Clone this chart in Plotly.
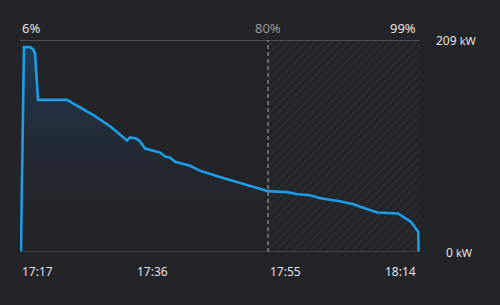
import plotly.graph_objects as go

# ---- data ----
times = [
    "2024-01-01 17:17:08", "2024-01-01 17:17:34", "2024-01-01 17:18:26", "2024-01-01 17:18:52",
    "2024-01-01 17:19:09", "2024-01-01 17:19:35", "2024-01-01 17:23:44", "2024-01-01 17:27:44",
    "2024-01-01 17:29:53", "2024-01-01 17:32:20", "2024-01-01 17:32:45", "2024-01-01 17:33:36",
    "2024-01-01 17:34:11", "2024-01-01 17:34:54", "2024-01-01 17:37:03", "2024-01-01 17:37:46",
    "2024-01-01 17:38:30", "2024-01-01 17:39:12", "2024-01-01 17:41:21", "2024-01-01 17:42:48",
    "2024-01-01 17:45:36", "2024-01-01 17:48:30", "2024-01-01 17:50:42", "2024-01-01 17:52:30",
    "2024-01-01 17:55:12", "2024-01-01 17:56:42", "2024-01-01 17:58:30", "2024-01-01 18:00:00",
    "2024-01-01 18:02:48", "2024-01-01 18:04:42", "2024-01-01 18:08:06", "2024-01-01 18:10:00",
    "2024-01-01 18:11:06", "2024-01-01 18:12:54", "2024-01-01 18:14:00", "2024-01-01 18:14:03",
]
power_kw = [
    0, 202, 202, 200,
    196, 150, 150, 134,
    124, 110, 113, 112,
    109, 102, 98, 94,
    93, 89, 85, 80,
    74, 68, 64, 60,
    59, 57, 56, 53,
    50, 47, 39, 38,
    38, 30, 20, 0,
]

x_start = "2024-01-01 17:17:00"
x_end = "2024-01-01 18:14:15"
max_kw = 209
soc80_time = "2024-01-01 17:52:30"

time_ticks = ["2024-01-01 17:17:00", "2024-01-01 17:36:00", "2024-01-01 17:55:00", "2024-01-01 18:14:00"]
time_labels = ["17:17", "17:36", "17:55", "18:14"]
time_anchors = ["left", "center", "center", "right"]

soc_positions = [x_start, soc80_time, "2024-01-01 18:14:00"]
soc_labels = ["6%", "80%", "99%"]
soc_anchors = ["left", "center", "right"]
soc_colors = ["#e2e2e2", "#9a9a9c", "#e2e2e2"]

BG = "#232428"
LINE = "#1c9de6"
FONT = "Noto Sans"

fig = go.Figure()

# hatched region after 80%
fig.add_trace(go.Scatter(
    x=[soc80_time, x_end, x_end, soc80_time, soc80_time],
    y=[0, 0, max_kw, max_kw, 0],
    fill="toself", mode="none",
    fillpattern=dict(shape="/", fgcolor="#333438", bgcolor=BG, size=6, solidity=0.3),
    hoverinfo="skip", showlegend=False,
))

# power curve
fig.add_trace(go.Scatter(
    x=times, y=power_kw, mode="lines",
    line=dict(color=LINE, width=2.6),
    fill="tozeroy",
    fillgradient=dict(type="vertical",
                      colorscale=[[0, "rgba(35,36,40,0)"], [1, "rgba(30,75,115,0.6)"]]),
    showlegend=False,
))

shapes = [
    dict(type="line", xref="paper", yref="y", x0=0, x1=1, y0=max_kw, y1=max_kw,
         line=dict(color="#5c5d61", width=1.5)),
    dict(type="line", xref="paper", yref="y", x0=0, x1=1, y0=0, y1=0,
         line=dict(color="#4c4d51", width=1.5)),
    dict(type="line", xref="x", yref="y", x0=soc80_time, x1=soc80_time, y0=0, y1=max_kw,
         line=dict(color="#808184", width=1.5, dash="4px,3px")),
]

annotations = []
for t, lab, anc in zip(time_ticks, time_labels, time_anchors):
    annotations.append(dict(x=t, y=0, xref="x", yref="paper", text=lab, showarrow=False,
                            xanchor=anc, yanchor="top", yshift=-9,
                            font=dict(family=FONT, size=12, color="#e2e2e2")))
for t, lab, anc, col in zip(soc_positions, soc_labels, soc_anchors, soc_colors):
    annotations.append(dict(x=t, y=1, xref="x", yref="paper", text=lab, showarrow=False,
                            xanchor=anc, yanchor="bottom", yshift=1,
                            font=dict(family=FONT, size=13, color=col)))
annotations.append(dict(x=1, y=max_kw, xref="paper", yref="y", text="209 <span style='font-size:11px'>kW</span>",
                        showarrow=False, xanchor="left", yanchor="middle", xshift=14,
                        font=dict(family=FONT, size=12, color="#e2e2e2")))
annotations.append(dict(x=1, y=0, xref="paper", yref="y", text="0 <span style='font-size:11px'>kW</span>",
                        showarrow=False, xanchor="left", yanchor="middle", xshift=24,
                        font=dict(family=FONT, size=12, color="#e2e2e2")))

fig.update_layout(
    width=500, height=305,
    margin=dict(l=20, r=80, t=40, b=53),
    paper_bgcolor=BG, plot_bgcolor=BG,
    xaxis=dict(range=[x_start, x_end], showgrid=False, zeroline=False, showticklabels=False,
               showline=False, fixedrange=True),
    yaxis=dict(range=[0, max_kw], showgrid=False, zeroline=False, showticklabels=False,
               showline=False, fixedrange=True),
    shapes=shapes, annotations=annotations,
)

fig.write_html("out.html")
